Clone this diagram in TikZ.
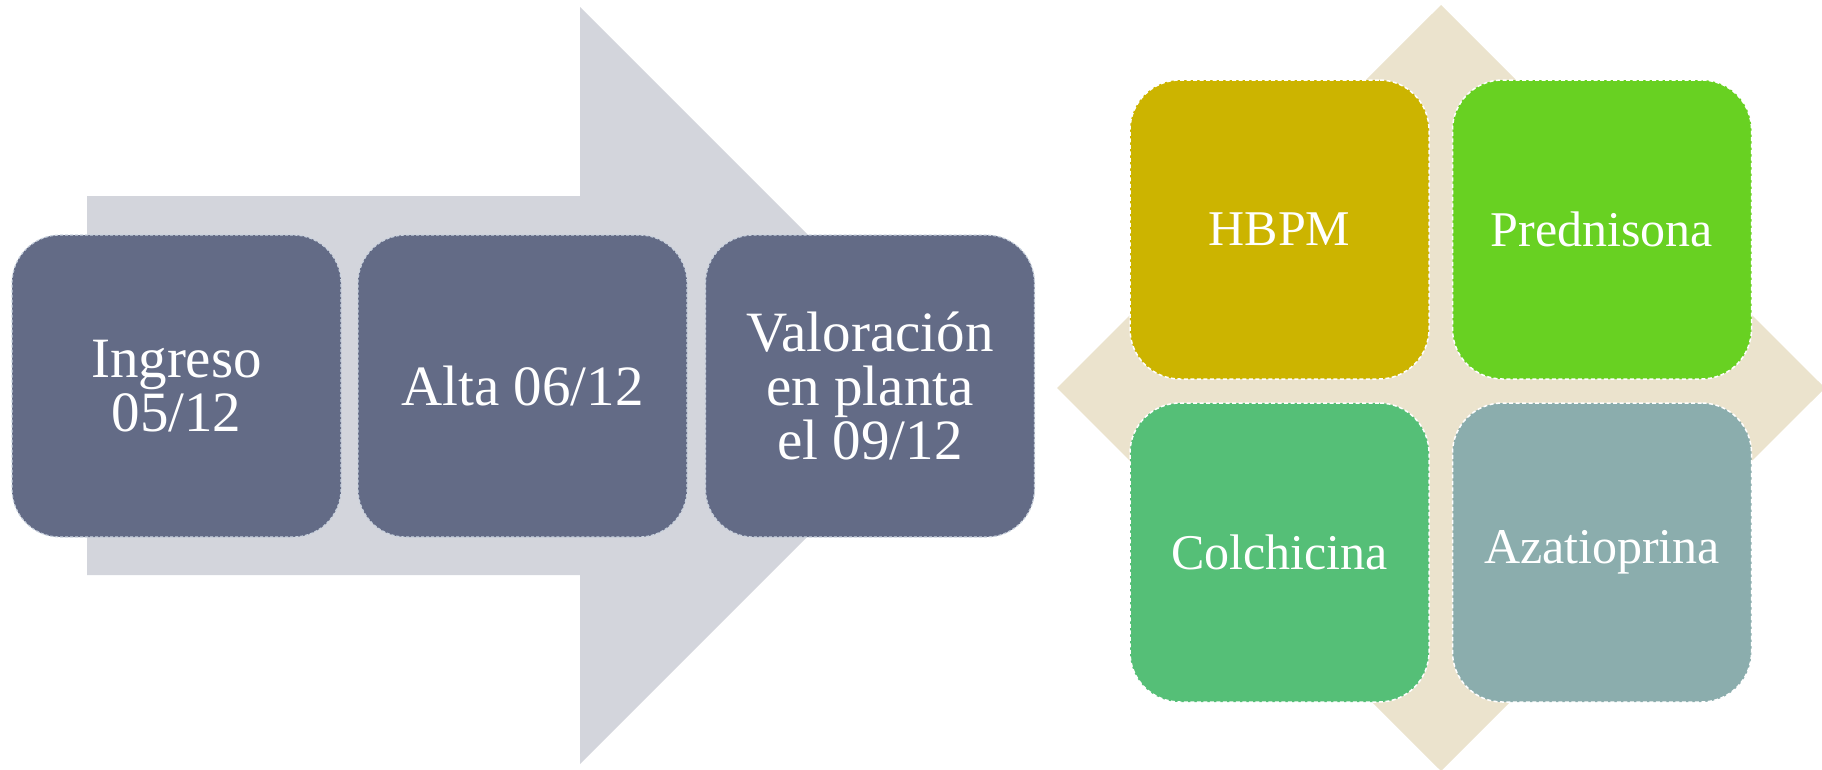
\documentclass[tikz,border=0pt]{standalone}
\usepackage{fontspec}
\setmainfont{Liberation Serif}
\definecolor{arrowgray}{HTML}{D3D5DC}
\definecolor{slatebox}{HTML}{636B86}
\definecolor{slateedge}{HTML}{C9D2DE}
\definecolor{sand}{HTML}{EBE3CD}
\definecolor{cHBPM}{HTML}{CCB400}
\definecolor{cPred}{HTML}{68D122}
\definecolor{cColch}{HTML}{55BF77}
\definecolor{cAzat}{HTML}{8BADAD}
\begin{document}
\begin{tikzpicture}[x=1pt,y=-1pt,
  stepbox/.style={draw=slateedge, line width=1.2pt, dash pattern=on 3pt off 2pt,
    fill=slatebox, rounded corners=48pt, minimum width=329pt, minimum height=302pt,
    inner sep=0pt, outer sep=0pt, text=white, align=center,
    font=\fontsize{57}{54}\selectfont},
  drugbox/.style={draw=white, line width=1.5pt, dash pattern=on 4pt off 2.5pt,
    rounded corners=50pt, minimum width=299pt, minimum height=299pt,
    inner sep=0pt, outer sep=0pt, text=white, align=center,
    font=\fontsize{50}{50}\selectfont}]
\useasboundingbox (0,0) rectangle (1822,769);
% big arrow
\fill[arrowgray] (87,196) -- (580,196) -- (580,7) -- (958.5,385.5) -- (580,764) -- (580,575) -- (87,575) -- cycle;
% diamond
\fill[sand] (1057,388) -- (1441,5) -- (1825,388) -- (1441,771) -- cycle;
% timeline boxes
\node[stepbox] (ingreso) at (176.5,386) {Ingreso\\05/12};
\node[stepbox] (alta) at (522.5,386) {Alta 06/12};
\node[stepbox] (valor) at (870,386) {Valoración\\en planta\\el 09/12};
% drug boxes
\node[drugbox, fill=cHBPM] (hbpm) at (1279.5,229.5) {HBPM};
\node[drugbox, fill=cPred] (pred) at (1602,229.5) {Prednisona};
\node[drugbox, fill=cColch] (colch) at (1279.5,552.5) {Colchicina};
\node[drugbox, fill=cAzat] (azat) at (1602,552.5) {Azatioprina};
\end{tikzpicture}
\end{document}
